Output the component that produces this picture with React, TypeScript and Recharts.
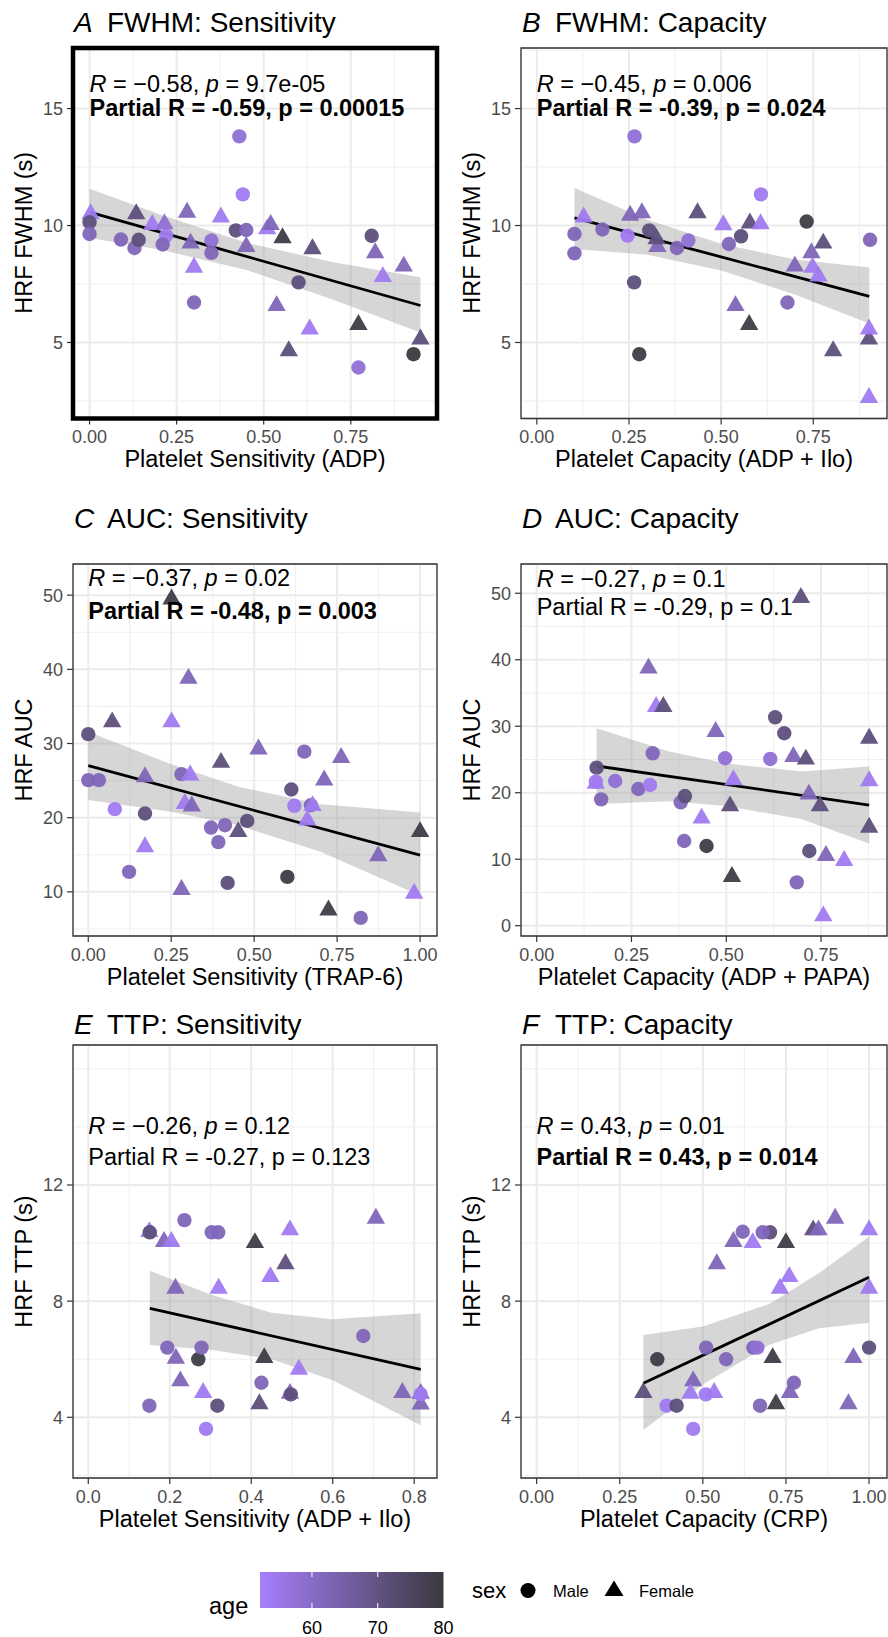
import React from 'react';
import {
  ComposedChart,
  Scatter,
  Line,
  Area,
  XAxis,
  YAxis,
  CartesianGrid,
  ReferenceLine,
  ReferenceArea,
} from 'recharts';

const FONT = "'Liberation Sans', Arial, Helvetica, sans-serif";

type Pt = [number, number, number, 'M' | 'F'];

// ---------- Panel A: FWHM vs Sensitivity (ADP) ----------
const pointsA: Pt[] = [
  [0.003, 10.5, 54, 'F'], [0, 10.14, 71, 'M'], [0, 9.64, 62, 'M'], [0.09, 9.4, 62, 'M'],
  [0.134, 10.5, 71, 'F'], [0.129, 9.04, 62, 'M'], [0.141, 9.39, 71, 'M'], [0.18, 10.04, 54, 'F'],
  [0.22, 9.57, 54, 'M'], [0.215, 10.07, 58, 'F'], [0.21, 9.19, 62, 'M'], [0.28, 10.56, 62, 'F'],
  [0.29, 9.24, 62, 'F'], [0.3, 8.21, 54, 'F'], [0.3, 6.71, 62, 'M'], [0.377, 10.36, 54, 'F'],
  [0.35, 9.36, 58, 'M'], [0.35, 8.83, 62, 'M'], [0.43, 13.81, 58, 'M'], [0.44, 11.33, 54, 'M'],
  [0.42, 9.79, 71, 'M'], [0.45, 9.81, 62, 'M'], [0.45, 9.1, 62, 'F'], [0.51, 9.85, 54, 'F'],
  [0.52, 10.04, 62, 'F'], [0.554, 9.47, 79, 'F'], [0.537, 6.57, 62, 'F'], [0.572, 4.64, 71, 'F'],
  [0.64, 9.0, 71, 'F'], [0.632, 5.57, 54, 'F'], [0.6, 7.57, 71, 'M'], [0.772, 5.76, 79, 'F'],
  [0.772, 3.93, 58, 'M'], [0.81, 9.56, 71, 'M'], [0.82, 8.83, 62, 'F'], [0.842, 7.81, 54, 'F'],
  [0.902, 8.26, 62, 'F'], [0.95, 5.14, 71, 'F'], [0.93, 4.5, 80, 'M'],
];
const fitA = [[0, 10.57], [0.95, 6.58]];
const bandA = [[0, 9.47, 11.57], [0.2, 8.98, 10.48], [0.45, 8.1, 9.26], [0.7, 6.83, 8.43], [0.95, 5.43, 7.79]];

// ---------- Panel B: FWHM vs Capacity (ADP + Ilo) ----------
const pointsB: Pt[] = [
  [0.102, 9.64, 62, 'M'], [0.102, 8.81, 62, 'M'], [0.127, 10.36, 54, 'F'], [0.178, 9.83, 62, 'M'],
  [0.246, 9.57, 54, 'M'], [0.253, 10.43, 62, 'F'], [0.285, 10.54, 62, 'F'], [0.265, 13.81, 58, 'M'],
  [0.264, 7.57, 71, 'M'], [0.278, 4.5, 79, 'M'], [0.305, 9.79, 71, 'M'], [0.327, 9.1, 62, 'F'],
  [0.325, 9.43, 71, 'F'], [0.38, 9.04, 62, 'M'], [0.411, 9.36, 58, 'M'], [0.436, 10.54, 71, 'F'],
  [0.506, 10.03, 54, 'F'], [0.521, 9.21, 62, 'M'], [0.539, 6.57, 62, 'F'], [0.554, 9.54, 71, 'M'],
  [0.578, 10.1, 71, 'F'], [0.576, 5.76, 79, 'F'], [0.607, 10.07, 54, 'F'], [0.608, 11.33, 54, 'M'],
  [0.68, 6.71, 62, 'M'], [0.7, 8.26, 62, 'F'], [0.732, 10.17, 79, 'M'], [0.745, 8.83, 62, 'F'],
  [0.748, 8.21, 54, 'F'], [0.764, 7.83, 54, 'F'], [0.777, 9.24, 71, 'F'], [0.804, 4.64, 71, 'F'],
  [0.904, 9.39, 62, 'M'], [0.901, 5.14, 71, 'F'], [0.901, 5.57, 54, 'F'], [0.901, 2.64, 54, 'F'],
];
const fitB = [[0.102, 10.33], [0.902, 6.97]];
const bandB = [[0.102, 9.0, 11.6], [0.3, 8.75, 10.25], [0.5, 8.08, 9.22], [0.7, 7.05, 8.55], [0.902, 5.81, 8.21]];

// ---------- Panel C: AUC vs Sensitivity (TRAP-6) ----------
const pointsC: Pt[] = [
  [0, 31.26, 71, 'M'], [0, 25.06, 62, 'M'], [0.032, 25.06, 62, 'M'], [0.072, 32.9, 71, 'F'],
  [0.08, 21.15, 54, 'M'], [0.123, 12.7, 62, 'M'], [0.171, 20.56, 71, 'M'], [0.171, 25.5, 62, 'F'],
  [0.171, 16.07, 54, 'F'], [0.251, 32.9, 54, 'F'], [0.251, 49.46, 79, 'F'], [0.281, 25.87, 62, 'M'],
  [0.302, 38.76, 62, 'F'], [0.307, 25.73, 54, 'F'], [0.291, 21.9, 54, 'F'], [0.312, 21.55, 62, 'F'],
  [0.281, 10.3, 62, 'F'], [0.37, 18.67, 62, 'M'], [0.412, 18.99, 62, 'M'], [0.392, 16.7, 62, 'M'],
  [0.4, 27.44, 71, 'F'], [0.42, 11.21, 71, 'M'], [0.452, 18.1, 71, 'F'], [0.479, 19.57, 71, 'M'],
  [0.513, 29.24, 62, 'F'], [0.612, 23.8, 71, 'M'], [0.6, 12.02, 79, 'M'], [0.651, 28.9, 62, 'M'],
  [0.621, 21.6, 54, 'M'], [0.671, 21.7, 62, 'M'], [0.676, 21.6, 54, 'F'], [0.66, 19.66, 54, 'F'],
  [0.711, 25.06, 62, 'F'], [0.762, 28.1, 62, 'F'], [0.724, 7.53, 79, 'F'], [0.821, 6.49, 62, 'M'],
  [0.874, 14.85, 62, 'F'], [1.0, 18.1, 79, 'F'], [0.982, 9.78, 54, 'F'],
];
const fitC = [[0, 27.03], [1.0, 14.94]];
const bandC = [[0, 22.4, 31.6], [0.25, 20.8, 27.2], [0.45, 19.0, 24.2], [0.7, 15.4, 21.8], [1.0, 9.5, 20.7]];

// ---------- Panel D: AUC vs Capacity (ADP + PAPA) ----------
const pointsD: Pt[] = [
  [0.158, 23.77, 71, 'M'], [0.156, 21.4, 54, 'F'], [0.156, 21.66, 54, 'M'], [0.17, 19.0, 62, 'M'],
  [0.207, 21.76, 58, 'M'], [0.268, 20.56, 62, 'M'], [0.299, 21.16, 54, 'M'], [0.306, 25.93, 62, 'M'],
  [0.295, 38.72, 62, 'F'], [0.315, 32.95, 54, 'F'], [0.334, 32.95, 71, 'F'], [0.38, 18.56, 62, 'M'],
  [0.391, 19.5, 71, 'M'], [0.389, 12.74, 62, 'M'], [0.448, 11.99, 79, 'M'], [0.435, 16.15, 54, 'F'],
  [0.472, 29.19, 62, 'F'], [0.497, 25.18, 58, 'M'], [0.519, 21.92, 54, 'F'], [0.51, 18.0, 71, 'F'],
  [0.515, 7.37, 79, 'F'], [0.629, 31.34, 71, 'M'], [0.653, 28.94, 71, 'M'], [0.616, 25.08, 58, 'M'],
  [0.677, 25.43, 62, 'F'], [0.71, 25.03, 71, 'F'], [0.697, 49.35, 71, 'F'], [0.718, 19.76, 62, 'F'],
  [0.747, 18.0, 71, 'F'], [0.719, 11.23, 71, 'M'], [0.763, 10.53, 62, 'F'], [0.811, 9.78, 54, 'F'],
  [0.686, 6.52, 62, 'M'], [0.756, 1.45, 54, 'F'], [0.877, 28.18, 71, 'F'], [0.877, 21.77, 54, 'F'],
  [0.877, 14.79, 71, 'F'],
];
const fitD = [[0.158, 24.02], [0.877, 18.15]];
const bandD = [[0.158, 18.3, 29.7], [0.35, 18.7, 26.2], [0.5, 18.0, 24.4], [0.7, 16.0, 23.2], [0.877, 12.35, 23.95]];

// ---------- Panel E: TTP vs Sensitivity (ADP + Ilo) ----------
const pointsE: Pt[] = [
  [0.15, 10.39, 54, 'F'], [0.151, 10.37, 71, 'M'], [0.186, 10.05, 62, 'F'], [0.204, 10.05, 54, 'F'],
  [0.236, 10.79, 62, 'M'], [0.303, 10.37, 62, 'M'], [0.319, 10.37, 62, 'M'], [0.214, 8.44, 62, 'F'],
  [0.32, 8.44, 54, 'F'], [0.194, 6.4, 62, 'M'], [0.215, 6.03, 62, 'F'], [0.27, 6.0, 79, 'M'],
  [0.278, 6.4, 62, 'M'], [0.226, 5.25, 62, 'F'], [0.282, 4.85, 54, 'F'], [0.15, 4.4, 62, 'M'],
  [0.317, 4.4, 71, 'M'], [0.289, 3.6, 54, 'M'], [0.409, 10.01, 79, 'F'], [0.447, 8.84, 54, 'F'],
  [0.484, 9.28, 71, 'F'], [0.495, 10.45, 54, 'F'], [0.432, 6.05, 79, 'F'], [0.425, 5.19, 62, 'M'],
  [0.42, 4.46, 71, 'F'], [0.495, 4.82, 62, 'F'], [0.497, 4.79, 71, 'M'], [0.517, 5.65, 54, 'F'],
  [0.706, 10.85, 62, 'F'], [0.675, 6.8, 62, 'M'], [0.771, 4.85, 62, 'F'], [0.816, 4.82, 62, 'F'],
  [0.816, 4.45, 62, 'F'], [0.816, 4.8, 54, 'M'],
];
const fitE = [[0.151, 7.75], [0.816, 5.65]];
const bandE = [[0.151, 6.49, 9.05], [0.3, 6.33, 8.23], [0.45, 6.0, 7.6], [0.6, 5.28, 7.38], [0.816, 3.73, 7.58]];

// ---------- Panel F: TTP vs Capacity (CRP) ----------
const pointsF: Pt[] = [
  [0.321, 4.85, 71, 'F'], [0.363, 6.0, 79, 'M'], [0.391, 4.4, 54, 'M'], [0.421, 4.4, 71, 'M'],
  [0.471, 3.6, 54, 'M'], [0.471, 5.25, 62, 'F'], [0.463, 4.82, 54, 'F'], [0.509, 4.79, 54, 'M'],
  [0.534, 4.85, 54, 'F'], [0.51, 6.4, 62, 'M'], [0.57, 6.0, 62, 'M'], [0.542, 9.28, 62, 'F'],
  [0.592, 10.05, 62, 'F'], [0.62, 10.39, 62, 'M'], [0.65, 10.01, 54, 'F'], [0.652, 6.4, 62, 'M'],
  [0.664, 6.4, 58, 'M'], [0.702, 10.37, 71, 'M'], [0.68, 10.37, 62, 'M'], [0.672, 4.4, 62, 'M'],
  [0.71, 6.05, 79, 'F'], [0.72, 4.46, 79, 'F'], [0.75, 10.01, 79, 'F'], [0.732, 8.44, 54, 'F'],
  [0.76, 8.84, 54, 'F'], [0.774, 5.19, 62, 'M'], [0.762, 4.85, 62, 'F'], [0.832, 10.45, 71, 'F'],
  [0.848, 10.45, 62, 'F'], [0.898, 10.85, 62, 'F'], [0.953, 6.05, 62, 'F'], [0.938, 4.46, 62, 'F'],
  [1.0, 6.4, 71, 'M'], [1.0, 10.45, 54, 'F'], [1.0, 8.44, 54, 'F'],
];
const fitF = [[0.321, 5.17], [1.0, 8.82]];
const bandF = [[0.321, 3.56, 6.83], [0.5, 5.13, 7.13], [0.7, 6.5, 7.9], [0.85, 7.07, 8.97], [1.0, 7.26, 10.22]];

// ---------- axis ticks ----------
const xTicks4 = [0, 0.25, 0.5, 0.75];
const xTicks5 = [0, 0.25, 0.5, 0.75, 1];
const xTicksE = [0, 0.2, 0.4, 0.6, 0.8];
const xMinor4 = [0.125, 0.375, 0.625, 0.875];
const xMinorE = [0.1, 0.3, 0.5, 0.7];
const yTicksFWHM = [5, 10, 15];
const yMinorFWHM = [2.5, 7.5, 12.5, 17.5];
const yTicksAUC_C = [10, 20, 30, 40, 50];
const yMinorAUC_C = [5, 15, 25, 35, 45];
const yTicksAUC_D = [0, 10, 20, 30, 40, 50];
const yMinorAUC_D = [5, 15, 25, 35, 45];
const yTicksTTP = [4, 8, 12];
const yMinorTTP = [2, 6, 10, 14, 16];

// ---------- legend ----------
const ageLimits = [52.1, 80];
const ageTicks = [60, 70, 80];
const sexLabels = ['Male', 'Female'];

const LOW = [167, 127, 253];
const HIGH = [58, 57, 62];
function ageColor(a: number) {
  const t = Math.max(0, Math.min(1, (a - ageLimits[0]) / (ageLimits[1] - ageLimits[0])));
  const c = LOW.map((l, i) => Math.round(l + (HIGH[i] - l) * t));
  return `rgb(${c[0]},${c[1]},${c[2]})`;
}

type Box = { left: number; top: number; w: number; h: number };
type PanelCfg = {
  tag: string;
  title: string;
  xTitle: string;
  yTitle: string;
  titleY: number;
  box: Box;
  xDomain: [number, number];
  yDomain: [number, number];
  xTicks: number[];
  xMinor: number[];
  yTicks: number[];
  yMinor: number[];
  xDigits: number;
  points: Pt[];
  fit: number[][];
  band: number[][];
  ann: { r: string; p: string; pr: string; pp: string; bold: boolean; y1: number; y2: number };
  thick?: boolean;
};

const panels: PanelCfg[] = [
  {
    tag: 'A', title: 'FWHM: Sensitivity', xTitle: 'Platelet Sensitivity (ADP)', yTitle: 'HRF FWHM (s)',
    titleY: 32, box: { left: 73, top: 47.5, w: 364, h: 370.5 },
    xDomain: [-0.0475, 0.9975], yDomain: [1.75, 17.59], xTicks: xTicks4, xMinor: xMinor4,
    yTicks: yTicksFWHM, yMinor: yMinorFWHM, xDigits: 2, points: pointsA, fit: fitA, band: bandA,
    ann: { r: '\u22120.58', p: '9.7e-05', pr: '-0.59', pp: '0.00015', bold: true, y1: 15.73, y2: 14.7 },
    thick: true,
  },
  {
    tag: 'B', title: 'FWHM: Capacity', xTitle: 'Platelet Capacity (ADP + Ilo)', yTitle: 'HRF FWHM (s)',
    titleY: 32, box: { left: 521, top: 47.5, w: 366, h: 370.5 },
    xDomain: [-0.043, 0.95], yDomain: [1.75, 17.59], xTicks: xTicks4, xMinor: xMinor4,
    yTicks: yTicksFWHM, yMinor: yMinorFWHM, xDigits: 2, points: pointsB, fit: fitB, band: bandB,
    ann: { r: '\u22120.45', p: '0.006', pr: '-0.39', pp: '0.024', bold: true, y1: 15.73, y2: 14.7 },
  },
  {
    tag: 'C', title: 'AUC: Sensitivity', xTitle: 'Platelet Sensitivity (TRAP-6)', yTitle: 'HRF AUC',
    titleY: 528, box: { left: 73, top: 564, w: 364, h: 372 },
    xDomain: [-0.046, 1.051], yDomain: [4.05, 54.2], xTicks: xTicks5, xMinor: xMinor4,
    yTicks: yTicksAUC_C, yMinor: yMinorAUC_C, xDigits: 2, points: pointsC, fit: fitC, band: bandC,
    ann: { r: '\u22120.37', p: '0.02', pr: '-0.48', pp: '0.003', bold: true, y1: 51.2, y2: 46.85 },
  },
  {
    tag: 'D', title: 'AUC: Capacity', xTitle: 'Platelet Capacity (ADP + PAPA)', yTitle: 'HRF AUC',
    titleY: 528, box: { left: 521, top: 564, w: 366, h: 372 },
    xDomain: [-0.0414, 0.924], yDomain: [-1.55, 54.4], xTicks: xTicks4, xMinor: xMinor4,
    yTicks: yTicksAUC_D, yMinor: yMinorAUC_D, xDigits: 2, points: pointsD, fit: fitD, band: bandD,
    ann: { r: '\u22120.27', p: '0.1', pr: '-0.29', pp: '0.1', bold: false, y1: 50.98, y2: 46.72 },
  },
  {
    tag: 'E', title: 'TTP: Sensitivity', xTitle: 'Platelet Sensitivity (ADP + Ilo)', yTitle: 'HRF TTP (s)',
    titleY: 1034, box: { left: 73, top: 1045, w: 364, h: 433 },
    xDomain: [-0.0375, 0.856], yDomain: [1.91, 16.82], xTicks: xTicksE, xMinor: xMinorE,
    yTicks: yTicksTTP, yMinor: yMinorTTP, xDigits: 1, points: pointsE, fit: fitE, band: bandE,
    ann: { r: '\u22120.26', p: '0.12', pr: '-0.27', pp: '0.123', bold: false, y1: 13.76, y2: 12.69 },
  },
  {
    tag: 'F', title: 'TTP: Capacity', xTitle: 'Platelet Capacity (CRP)', yTitle: 'HRF TTP (s)',
    titleY: 1034, box: { left: 521, top: 1045, w: 366, h: 433 },
    xDomain: [-0.047, 1.054], yDomain: [1.91, 16.82], xTicks: xTicks5, xMinor: xMinor4,
    yTicks: yTicksTTP, yMinor: yMinorTTP, xDigits: 2, points: pointsF, fit: fitF, band: bandF,
    ann: { r: '0.43', p: '0.01', pr: '0.43', pp: '0.014', bold: true, y1: 13.76, y2: 12.69 },
  },
];

const YW = 73;
const XH = 60;
const MT = 6;
const MR = 3;

function renderPoint(props: any) {
  const { cx, cy, payload } = props;
  if (cx == null || cy == null) return <g />;
  const fill = ageColor(payload.age);
  if (payload.sex === 'M') {
    return <circle cx={cx} cy={cy} r={7.2} fill={fill} fillOpacity={0.95} />;
  }
  const r = 10.6;
  const hw = r * 0.866;
  const d = `M${cx},${cy - r} L${cx + hw},${cy + r / 2} L${cx - hw},${cy + r / 2} Z`;
  return <path d={d} fill={fill} fillOpacity={0.95} />;
}

function makeAnnShape(ann: PanelCfg['ann']) {
  return (props: any) => {
    const { cx, cy, payload } = props;
    if (payload.line === 1) {
      return (
        <text x={cx} y={cy} fontFamily={FONT} fontSize={23.5} fill="#000">
          <tspan fontStyle="italic">R</tspan>
          <tspan>{` = ${ann.r}, `}</tspan>
          <tspan fontStyle="italic">p</tspan>
          <tspan>{` = ${ann.p}`}</tspan>
        </text>
      );
    }
    return (
      <text x={cx} y={cy} fontFamily={FONT} fontSize={23.5} fill="#000" fontWeight={ann.bold ? 'bold' : 'normal'}>
        {`Partial R = ${ann.pr}, p = ${ann.pp}`}
      </text>
    );
  };
}

function PanelChart({ p }: { p: PanelCfg }) {
  const width = YW + p.box.w + MR;
  const height = MT + p.box.h + XH;
  const scatterData = p.points.map(([x, y, age, sex]) => ({ x, y, age, sex }));
  const fitData = p.fit.map(([x, y]) => ({ x, y }));
  const bandData = p.band.map(([x, lo, hi]) => ({ x, band: [lo, hi] }));
  const annData = [
    { x: 0, y: p.ann.y1, line: 1 },
    { x: 0, y: p.ann.y2, line: 2 },
  ];
  const tickStyle = { fill: '#4D4D4D', fontSize: 18, fontFamily: FONT };
  return (
    <div style={{ position: 'absolute', left: p.box.left - YW, top: p.box.top - MT, width, height }}>
      <ComposedChart width={width} height={height} margin={{ top: MT, right: MR, bottom: 0, left: 0 }}>
        <CartesianGrid stroke="#EBEBEB" strokeWidth={2} />
        {p.xMinor.map((v) => (
          <ReferenceLine key={'xm' + v} x={v} stroke="#EFEFEF" strokeWidth={1} zIndex={-90} />
        ))}
        {p.yMinor.map((v) => (
          <ReferenceLine key={'ym' + v} y={v} stroke="#EFEFEF" strokeWidth={1} zIndex={-90} />
        ))}
        <XAxis
          type="number"
          dataKey="x"
          domain={p.xDomain}
          ticks={p.xTicks}
          interval={0}
          allowDataOverflow
          tickFormatter={(v: number) => v.toFixed(p.xDigits)}
          height={XH}
          tickSize={6}
          tickMargin={6}
          axisLine={false}
          tickLine={{ stroke: '#333333', strokeWidth: 1.2 }}
          tick={tickStyle}
        />
        <YAxis
          type="number"
          dataKey="y"
          domain={p.yDomain}
          ticks={p.yTicks}
          interval={0}
          allowDataOverflow
          width={YW}
          tickSize={6}
          tickMargin={4}
          axisLine={false}
          tickLine={{ stroke: '#333333', strokeWidth: 1.2 }}
          tick={tickStyle}
        />
        <Area
          data={bandData}
          dataKey="band"
          type="linear"
          fill="#999999"
          fillOpacity={0.4}
          stroke="none"
          dot={false}
          activeDot={false}
          isAnimationActive={false}
        />
        <Line
          data={fitData}
          dataKey="y"
          type="linear"
          stroke="#000000"
          strokeWidth={2.8}
          dot={false}
          activeDot={false}
          isAnimationActive={false}
        />
        <Scatter data={scatterData} dataKey="y" shape={renderPoint} isAnimationActive={false} />
        <Scatter data={annData} dataKey="y" shape={makeAnnShape(p.ann)} isAnimationActive={false} />
        <ReferenceArea
          x1={p.xDomain[0]}
          x2={p.xDomain[1]}
          y1={p.yDomain[0]}
          y2={p.yDomain[1]}
          fill="none"
          fillOpacity={0}
          stroke={p.thick ? '#000000' : '#333333'}
          strokeWidth={p.thick ? 4.5 : 1.3}
          zIndex={1500}
        />
      </ComposedChart>
    </div>
  );
}

function Overlay() {
  const barX0 = 260;
  const barX1 = 443.5;
  const barY0 = 1572;
  const barY1 = 1608;
  const ageToX = (a: number) => barX0 + ((a - ageLimits[0]) / (ageLimits[1] - ageLimits[0])) * (barX1 - barX0);
  return (
    <svg width={888} height={1637} style={{ position: 'absolute', left: 0, top: 0 }} fontFamily={FONT}>
      <defs>
        <linearGradient id="ageGrad" x1="0" x2="1" y1="0" y2="0">
          <stop offset="0%" stopColor={ageColor(ageLimits[0])} />
          <stop offset="50%" stopColor={ageColor((ageLimits[0] + ageLimits[1]) / 2)} />
          <stop offset="100%" stopColor={ageColor(ageLimits[1])} />
        </linearGradient>
      </defs>
      {panels.map((p) => (
        <g key={p.tag}>
          <text x={p.box.left + 1} y={p.titleY} fontSize={28} fontStyle="italic" fill="#000">
            {p.tag}
          </text>
          <text x={p.box.left + 34} y={p.titleY} fontSize={28} fill="#000">
            {p.title}
          </text>
          <text x={p.box.left + p.box.w / 2} y={p.box.top + p.box.h + 49} fontSize={23.5} textAnchor="middle" fill="#000">
            {p.xTitle}
          </text>
          <text
            transform={`translate(${p.box.left - 41.5},${p.box.top + p.box.h / 2}) rotate(-90)`}
            fontSize={23.5}
            textAnchor="middle"
            fill="#000"
          >
            {p.yTitle}
          </text>
        </g>
      ))}
      {/* age colourbar */}
      <text x={209} y={1614} fontSize={23.5} fill="#000">age</text>
      <rect x={barX0} y={barY0} width={barX1 - barX0} height={barY1 - barY0} fill="url(#ageGrad)" />
      {ageTicks.map((a) => (
        <g key={a}>
          {a < 80 && (
            <>
              <line x1={ageToX(a)} x2={ageToX(a)} y1={barY0} y2={barY0 + 5} stroke="#FFFFFF" strokeWidth={1} />
              <line x1={ageToX(a)} x2={ageToX(a)} y1={barY1 - 5} y2={barY1} stroke="#FFFFFF" strokeWidth={1} />
            </>
          )}
          <text x={ageToX(a)} y={1634} fontSize={18} textAnchor="middle" fill="#000">{a}</text>
        </g>
      ))}
      {/* sex legend */}
      <text x={472} y={1598} fontSize={22} fill="#000">sex</text>
      <circle cx={528} cy={1590.5} r={7.5} fill="#000" />
      <text x={553} y={1597} fontSize={16.5} fill="#000">{sexLabels[0]}</text>
      <path d="M614,1580.5 L623.5,1596 L604.5,1596 Z" fill="#000" />
      <text x={639} y={1597} fontSize={16.5} fill="#000">{sexLabels[1]}</text>
    </svg>
  );
}

export default function App() {
  return (
    <div
      style={{
        position: 'absolute',
        left: 0,
        top: 0,
        width: 888,
        height: 1637,
        overflow: 'hidden',
        background: '#FFFFFF',
        fontFamily: FONT,
      }}
    >
      <Overlay />
      {panels.map((p) => (
        <PanelChart key={p.tag} p={p} />
      ))}
    </div>
  );
}
